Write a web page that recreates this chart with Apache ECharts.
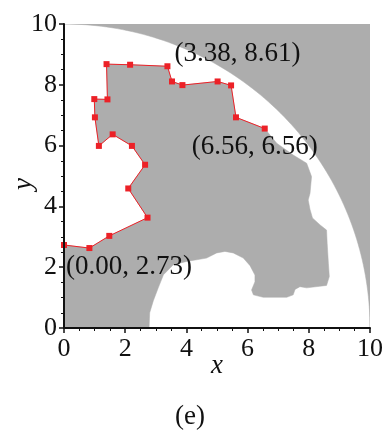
<!DOCTYPE html>
<html>
<head>
<meta charset="utf-8">
<script src="https://cdn.jsdelivr.net/npm/echarts@6/dist/echarts.min.js"></script>
<style>
  html, body { margin: 0; padding: 0; background: #fff; }
  #chart { width: 385px; height: 433px; }
</style>
</head>
<body>
<div id="chart"></div>
<script>
// Traced path (red) along the upper-left edge of the shaded region
const pathX = [0.00, 0.83, 1.48, 2.73, 2.10, 2.65, 2.22, 1.59, 1.14, 1.01, 0.99, 1.42, 1.39, 2.16, 3.38, 3.53, 3.87, 5.02, 5.46, 5.62, 6.56];
const pathY = [2.73, 2.63, 3.03, 3.63, 4.59, 5.37, 5.99, 6.37, 5.99, 6.93, 7.53, 7.52, 8.68, 8.66, 8.61, 8.11, 7.99, 8.11, 7.98, 6.93, 6.56];

// Indices of path points whose coordinates are printed
const labelledPoints = [0, 14, 20];

// Remaining boundary of the shaded region, clockwise from the end of the path
const edgeX = [6.95, 7.49, 7.93, 8.09, 8.04, 7.98, 8.04, 8.12, 8.37, 8.58, 8.60, 8.64, 8.67, 8.58, 7.93, 7.71, 7.55, 7.49, 7.28, 6.51, 6.19, 6.13, 6.24, 6.24, 6.08, 5.86, 5.53, 5.26, 4.99, 4.66, 4.01, 3.57, 3.25, 3.08, 2.92, 2.80, 2.78, 0.00];
const edgeY = [6.08, 5.69, 5.42, 4.98, 4.43, 4.21, 3.90, 3.62, 3.39, 3.22, 2.79, 2.13, 1.69, 1.40, 1.32, 1.36, 1.27, 1.09, 1.01, 1.01, 1.09, 1.25, 1.52, 1.74, 2.05, 2.30, 2.47, 2.52, 2.47, 2.30, 2.19, 2.08, 1.75, 1.32, 0.90, 0.50, 0.00, 0.00];

// Domain: quarter disc of this radius inside the 10 x 10 square
const outerRadius = 10;
const axisMin = 0, axisMax = 10, axisStep = 2;

const SERIF = '"Liberation Serif", "DejaVu Serif", serif';
const SHADE = '#adadad';
const RED = '#ec2127';

// Region below the traced path
const regionX = pathX.concat(edgeX);
const regionY = pathY.concat(edgeY);

// Corner outside the quarter disc
const cornerX = [], cornerY = [];
const arcSteps = 90;
for (let i = 0; i <= arcSteps; i++) {
  const a = Math.PI / 2 * (1 - i / arcSteps);
  cornerX.push(outerRadius * Math.cos(a));
  cornerY.push(outerRadius * Math.sin(a));
}
cornerX.push(axisMax);
cornerY.push(axisMax);

function polygonRenderer(xs, ys, color) {
  return function (params, api) {
    const pts = xs.map((x, i) => api.coord([x, ys[i]]));
    return { type: 'polygon', shape: { points: pts }, style: { fill: color, stroke: color, lineWidth: 0.5 } };
  };
}

// Label placement for the printed points (pixel offsets)
const labelPlacement = {
  0: [5, 11],
  14: [10, -23],
  20: [-70, 8]
};

const fmt = v => '(' + v[0].toFixed(2) + ', ' + v[1].toFixed(2) + ')';

const pathData = pathX.map((x, i) => {
  const item = { value: [x, pathY[i]] };
  if (labelledPoints.includes(i)) {
    item.label = {
      show: true,
      position: labelPlacement[i],
      formatter: p => fmt(p.value),
      fontFamily: SERIF,
      fontSize: 27,
      color: '#111',
      align: 'left',
      verticalAlign: 'top'
    };
  }
  return item;
});

function axisCommon(name) {
  return {
    type: 'value',
    min: axisMin,
    max: axisMax,
    interval: axisStep,
    z: 10,
    name: name,
    nameLocation: 'middle',
    nameMoveOverlap: false,
    nameTextStyle: { fontFamily: SERIF, fontStyle: 'italic', fontSize: 27, color: '#111' },
    axisLine: { show: true, onZero: false, lineStyle: { color: '#111', width: 2 } },
    axisTick: { show: true, length: 5, lineStyle: { color: '#111', width: 1.5 } },
    minorTick: { show: true, splitNumber: 4, length: 3, lineStyle: { color: '#111', width: 1 } },
    splitLine: { show: false },
    minorSplitLine: { show: false },
    axisLabel: { fontFamily: SERIF, fontSize: 26, color: '#111' }
  };
}

const chart = echarts.init(document.getElementById('chart'), null, { renderer: 'canvas' });

const xAxis = axisCommon('x');
xAxis.nameGap = 24;
xAxis.axisLabel.margin = 8;
const yAxis = axisCommon('y');
yAxis.nameGap = 27;
yAxis.nameTextStyle.padding = [0, 16, 0, 0];
yAxis.axisLabel.margin = 7;

chart.setOption({
  animation: false,
  backgroundColor: '#fff',
  title: {
    text: '(e)',
    left: 170,
    top: 398,
    textStyle: { fontFamily: SERIF, fontSize: 27, fontWeight: 'normal', color: '#111' }
  },
  grid: { left: 64, top: 24, right: 15, bottom: 105, containLabel: false, outerBoundsMode: 'none' },
  xAxis: xAxis,
  yAxis: yAxis,
  series: [
    {
      type: 'custom',
      name: 'region',
      renderItem: polygonRenderer(regionX, regionY, SHADE),
      data: [[0, 0]],
      clip: true,
      z: 1,
      silent: true
    },
    {
      type: 'custom',
      name: 'outside',
      renderItem: polygonRenderer(cornerX, cornerY, SHADE),
      data: [[axisMax, axisMax]],
      clip: true,
      z: 1,
      silent: true
    },
    {
      type: 'line',
      name: 'path',
      data: pathData,
      symbol: 'rect',
      symbolSize: 6,
      showAllSymbol: true,
      itemStyle: { color: RED },
      lineStyle: { color: RED, width: 1 },
      z: 5
    }
  ]
});
</script>
</body>
</html>
